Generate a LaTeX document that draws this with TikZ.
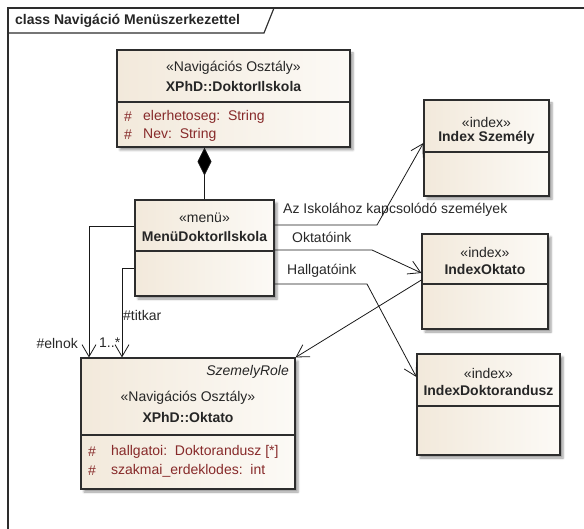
\documentclass[tikz,border=0pt]{standalone}
\usepackage{fontspec}
\setmainfont{Liberation Sans}
\usetikzlibrary{arrows.meta,shadows.blur}

\definecolor{boxleft}{RGB}{242,233,219}
\definecolor{boxright}{RGB}{252,250,246}
\definecolor{attrred}{RGB}{135,42,42}
\definecolor{edgegray}{RGB}{45,45,45}
\definecolor{labelgray}{RGB}{40,40,40}

\tikzset{
  classbox/.style={rectangle, draw=edgegray, line width=1.2pt, inner sep=0pt,
    left color=boxleft, right color=boxright,
    blur shadow={shadow xshift=3pt, shadow yshift=-3pt, shadow blur steps=4, shadow opacity=40}},
  sepline/.style={draw=edgegray, line width=1.2pt},
  stereo/.style={font=\fontsize{14}{16}\selectfont, text=black!85, inner sep=0pt},
  cname/.style={font=\bfseries\fontsize{14}{16}\selectfont, text=black!85, inner sep=0pt},
  attrtxt/.style={font=\fontsize{14}{16}\selectfont, text=attrred, anchor=west, inner sep=0pt},
  lbl/.style={font=\fontsize{14}{16}\selectfont, text=labelgray, inner sep=0pt},
  link/.style={draw=black!90, line width=0.8pt},
  nav/.style={link, -{Straight Barb[length=12pt,width=14pt]}},
}

\begin{document}
\begin{tikzpicture}[x=1pt, y=-1pt]
  \useasboundingbox (0,0) rectangle (584,529);

  % diagram frame with its title tab
  \draw[draw=edgegray, line width=1.4pt] (8,529) -- (8,8) -- (584,8);
  \draw[draw=edgegray, line width=1.2pt] (8,33) -- (264,33) -- (274,8);
  \node[font=\bfseries\fontsize{14}{16}\selectfont, text=black!85, anchor=west, inner sep=0pt]
    (title) at (15,21) {class Navigáció Menüszerkezettel};

  % XPhD::DoktorIlskola
  \node[classbox, minimum width=233pt, minimum height=97pt] (dok) at (233.5,98.5) {};
  \draw[sepline] (dok.west |- 0,102) -- (dok.east |- 0,102);
  \node[stereo] (dokst) at (233.5,68) {«Navigációs Osztály»};
  \node[cname] (dokname) at (233.5,86) {XPhD::DoktorIlskola};
  \node[attrtxt] (dokh1) at (124,117) {\#};
  \node[attrtxt] (doka1) at (143,117) {elerhetoseg:\ \ String};
  \node[attrtxt] (dokh2) at (124,135) {\#};
  \node[attrtxt] (doka2) at (143,135) {Nev:\ \ String};

  % MenüDoktorIlskola
  \node[classbox, minimum width=139pt, minimum height=96pt] (menu) at (204.5,248) {};
  \draw[sepline] (menu.west |- 0,251) -- (menu.east |- 0,251);
  \node[stereo] (menust) at (204.5,218) {«menü»};
  \node[cname] (menuname) at (204.5,236) {MenüDoktorIlskola};

  % IndexSzemély
  \node[classbox, minimum width=125pt, minimum height=96pt] (iszem) at (486.5,148) {};
  \draw[sepline] (iszem.west |- 0,152) -- (iszem.east |- 0,152);
  \node[stereo] (iszemst) at (486.5,122) {«index»};
  \node[cname] (iszemname) at (486.5,138) {Index Személy};

  % IndexOktato
  \node[classbox, minimum width=126pt, minimum height=95pt] (iokt) at (485,281.5) {};
  \draw[sepline] (iokt.west |- 0,284) -- (iokt.east |- 0,284);
  \node[stereo] (ioktst) at (485,252) {«index»};
  \node[cname] (ioktname) at (485,269) {IndexOktato};

  % IndexDoktorandusz
  \node[classbox, minimum width=143pt, minimum height=101pt] (idok) at (488.5,404.5) {};
  \draw[sepline] (idok.west |- 0,406) -- (idok.east |- 0,406);
  \node[stereo] (idokst) at (488.5,373) {«index»};
  \node[cname] (idokname) at (488.5,390) {IndexDoktorandusz};

  % XPhD::Oktato
  \node[classbox, minimum width=214pt, minimum height=131pt] (okt) at (188,423.5) {};
  \draw[sepline] (okt.west |- 0,435) -- (okt.east |- 0,435);
  \node[stereo, font=\itshape\fontsize{14}{16}\selectfont, anchor=east] (oktrole) at (289,372) {SzemelyRole};
  \node[stereo] (oktst) at (188,398) {«Navigációs Osztály»};
  \node[cname] (oktname) at (188,417) {XPhD::Oktato};
  \node[attrtxt] (okth1) at (88,452) {\#};
  \node[attrtxt] (okta1) at (111,452) {hallgatoi:\ \ Doktorandusz [*]};
  \node[attrtxt] (okth2) at (88,471) {\#};
  \node[attrtxt] (okta2) at (111,471) {szakmai\_erdeklodes:\ \ int};

  % composition
  \draw[link, {Diamond[length=28pt,width=14pt,fill=black]}-] (menu.north |- dok.south) -- (menu.north);

  % navigation links from the menu
  \coordinate (b1) at (377,225);
  \coordinate (b2) at (372,250);
  \coordinate (b3) at (367,284);
  \draw[nav] (menu.east |- 0,225) -- (b1) -- (iszem.west |- 0,143);
  \draw[nav] (menu.east |- 0,250) -- (b2) -- (iokt.west |- 0,273);
  \draw[nav] (menu.east |- 0,284) -- (b3) -- (idok.west |- 0,377);
  \draw[nav] (iokt.west |- 0,280) -- (okt.north east);

  \coordinate (e1) at (89,226);
  \coordinate (t1) at (122,268);
  \draw[nav] (menu.west |- 0,226) -- (e1) -- (e1 |- okt.north);
  \draw[nav] (menu.west |- 0,268) -- (t1) -- (t1 |- okt.north);

  % link labels
  \node[lbl, anchor=west] (lszem) at (283,210) {Az Iskolához kapcsolódó személyek};
  \node[lbl, anchor=west] (lokt) at (292,237) {Oktatóink};
  \node[lbl, anchor=west] (lhall) at (287,271) {Hallgatóink};
  \node[lbl, anchor=east] (lelnok) at (78,343) {\#elnok};
  \node[lbl, anchor=west] (lmult) at (99,343) {1..*};
  \node[lbl, anchor=west] (ltitkar) at (123,315) {\#titkar};
\end{tikzpicture}
\end{document}
